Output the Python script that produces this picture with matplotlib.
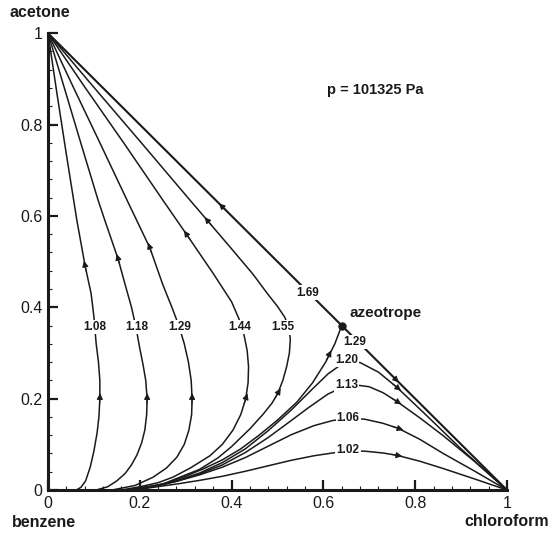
import numpy as np
import matplotlib
matplotlib.use("Agg")
import matplotlib.pyplot as plt
from matplotlib.ticker import MultipleLocator, FuncFormatter

plt.rcParams['font.family'] = ['Liberation Sans', 'DejaVu Sans']

# ---------------- data (x = chloroform, y = acetone) ----------------
# Left-region residue curves (benzene edge -> acetone)
c108_x = [0.062, 0.072, 0.082, 0.092, 0.100, 0.107, 0.111, 0.113, 0.113, 0.110, 0.105, 0.100, 0.094, 0.081, 0.063, 0.040, 0.020, 0.0]
c108_y = [0.000, 0.006, 0.020, 0.050, 0.085, 0.125, 0.160, 0.200, 0.240, 0.280, 0.320, 0.380, 0.430, 0.490, 0.590, 0.735, 0.865, 1.0]

c118_x = [0.105, 0.130, 0.150, 0.168, 0.182, 0.194, 0.204, 0.211, 0.215, 0.216, 0.213, 0.207, 0.200, 0.192, 0.182, 0.168, 0.153, 0.124, 0.109, 0.072, 0.036, 0.0]
c118_y = [0.000, 0.007, 0.020, 0.036, 0.055, 0.077, 0.103, 0.131, 0.165, 0.200, 0.240, 0.275, 0.310, 0.355, 0.400, 0.450, 0.505, 0.590, 0.635, 0.758, 0.879, 1.0]

c129_x = [0.140, 0.190, 0.229, 0.258, 0.281, 0.297, 0.307, 0.313, 0.314, 0.312, 0.306, 0.297, 0.285, 0.270, 0.250, 0.222, 0.172, 0.115, 0.057, 0.0]
c129_y = [0.000, 0.010, 0.028, 0.048, 0.072, 0.100, 0.131, 0.165, 0.200, 0.240, 0.280, 0.320, 0.360, 0.400, 0.450, 0.530, 0.635, 0.756, 0.878, 1.0]

c144_x = [0.160, 0.200, 0.240, 0.272, 0.310, 0.353, 0.380, 0.403, 0.420, 0.431, 0.436, 0.437, 0.434, 0.427, 0.416, 0.400, 0.360, 0.303, 0.250, 0.167, 0.083, 0.0]
c144_y = [0.000, 0.007, 0.016, 0.028, 0.048, 0.075, 0.100, 0.131, 0.165, 0.200, 0.235, 0.270, 0.305, 0.340, 0.375, 0.412, 0.474, 0.558, 0.635, 0.757, 0.878, 1.0]

c155_x = [0.170, 0.250, 0.330, 0.370, 0.400, 0.440, 0.468, 0.488, 0.501, 0.512, 0.520, 0.526, 0.528, 0.525, 0.516, 0.500, 0.478, 0.447, 0.400, 0.349, 0.309, 0.206, 0.103, 0.0]
c155_y = [0.000, 0.013, 0.045, 0.070, 0.095, 0.134, 0.165, 0.190, 0.212, 0.241, 0.270, 0.300, 0.330, 0.355, 0.378, 0.402, 0.430, 0.472, 0.528, 0.588, 0.635, 0.757, 0.878, 1.0]

# Separatrix (benzene edge -> azeotrope)
sep_x = [0.180, 0.220, 0.260, 0.300, 0.340, 0.380, 0.420, 0.460, 0.500, 0.542, 0.576, 0.605, 0.625, 0.640]
sep_y = [0.000, 0.006, 0.016, 0.030, 0.047, 0.066, 0.090, 0.120, 0.153, 0.192, 0.234, 0.280, 0.320, 0.360]

# Right-region residue curves (benzene edge -> chloroform)
c120_x = [0.180, 0.230, 0.280, 0.330, 0.380, 0.430, 0.480, 0.530, 0.575, 0.610, 0.635, 0.655, 0.680, 0.720, 0.760, 0.826, 0.900, 1.0]
c120_y = [0.000, 0.007, 0.020, 0.037, 0.060, 0.090, 0.130, 0.175, 0.220, 0.254, 0.272, 0.280, 0.279, 0.258, 0.225, 0.162, 0.090, 0.0]

c113_x = [0.180, 0.230, 0.280, 0.330, 0.380, 0.430, 0.480, 0.530, 0.570, 0.610, 0.640, 0.670, 0.700, 0.730, 0.760, 0.810, 0.861, 0.930, 1.0]
c113_y = [0.000, 0.007, 0.019, 0.035, 0.055, 0.082, 0.115, 0.152, 0.182, 0.210, 0.224, 0.230, 0.226, 0.213, 0.194, 0.158, 0.119, 0.062, 0.0]

c106_x = [0.180, 0.230, 0.280, 0.330, 0.380, 0.430, 0.480, 0.530, 0.580, 0.620, 0.655, 0.690, 0.730, 0.763, 0.810, 0.861, 0.930, 1.0]
c106_y = [0.000, 0.008, 0.019, 0.033, 0.050, 0.071, 0.096, 0.121, 0.141, 0.152, 0.157, 0.155, 0.146, 0.135, 0.111, 0.080, 0.041, 0.0]

c102_x = [0.180, 0.230, 0.280, 0.330, 0.380, 0.430, 0.480, 0.530, 0.580, 0.620, 0.655, 0.690, 0.730, 0.760, 0.810, 0.861, 0.930, 1.0]
c102_y = [0.000, 0.006, 0.013, 0.021, 0.030, 0.041, 0.053, 0.065, 0.075, 0.081, 0.085, 0.085, 0.081, 0.076, 0.063, 0.047, 0.024, 0.0]

# Hypotenuse split at the azeotrope
azeo_x, azeo_y = 0.640, 0.360
edge_up_x = [0.640, 0.0]
edge_up_y = [0.360, 1.0]
edge_dn_x = [0.640, 1.0]
edge_dn_y = [0.360, 0.0]

curves = {
    "1.08": (c108_x, c108_y), "1.18": (c118_x, c118_y), "1.29a": (c129_x, c129_y),
    "1.44": (c144_x, c144_y), "1.55": (c155_x, c155_y), "sep": (sep_x, sep_y),
    "1.20": (c120_x, c120_y), "1.13": (c113_x, c113_y), "1.06": (c106_x, c106_y),
    "1.02": (c102_x, c102_y), "1.69": (edge_up_x, edge_up_y), "1.29b": (edge_dn_x, edge_dn_y),
}

# arrow locations (curve key, x, y)
arrow_pts = [
    ("1.08", 0.113, 0.200), ("1.08", 0.081, 0.490),
    ("1.18", 0.216, 0.200), ("1.18", 0.153, 0.505),
    ("1.29a", 0.314, 0.200), ("1.29a", 0.222, 0.530),
    ("1.44", 0.431, 0.200), ("1.44", 0.303, 0.558),
    ("1.55", 0.501, 0.212), ("1.55", 0.349, 0.588),
    ("sep", 0.612, 0.295),
    ("1.20", 0.760, 0.225), ("1.13", 0.760, 0.194),
    ("1.06", 0.763, 0.135), ("1.02", 0.760, 0.076),
    ("1.69", 0.381, 0.619), ("1.29b", 0.756, 0.244),
]

# inline labels (text, x, y)
label_text = ["1.08", "1.18", "1.29", "1.44", "1.55", "1.69", "1.29", "1.20", "1.13", "1.06", "1.02"]
label_x = [0.102, 0.193, 0.288, 0.418, 0.512, 0.566, 0.669, 0.651, 0.651, 0.654, 0.654]
label_y = [0.357, 0.357, 0.357, 0.357, 0.356, 0.432, 0.324, 0.284, 0.230, 0.157, 0.087]

# ---------------- figure ----------------
fig = plt.figure(figsize=(5.49, 5.33), dpi=100)
ax = fig.add_axes([0.0874, 0.0807, 0.836, 0.857])

for key, (xs, ys) in curves.items():
    lw = 1.5 if key in ("1.69", "1.29b") else 1.1
    ax.plot(xs, ys, color='#1a1a1a', lw=lw, solid_capstyle='round',
            solid_joinstyle='round', zorder=2)

# arrowheads oriented along the curve direction
for key, px, py in arrow_pts:
    xs, ys = np.asarray(curves[key][0]), np.asarray(curves[key][1])
    p = np.array([px, py])
    best, bj = 1e9, 0
    for j in range(len(xs) - 1):
        u = np.array([xs[j], ys[j]]); v = np.array([xs[j + 1], ys[j + 1]])
        t = np.clip(np.dot(p - u, v - u) / max(np.dot(v - u, v - u), 1e-12), 0, 1)
        dist = np.linalg.norm(u + t * (v - u) - p)
        if dist < best:
            best, bj = dist, j
    dx, dy = xs[bj + 1] - xs[bj], ys[bj + 1] - ys[bj]
    n = np.hypot(dx, dy)
    dx, dy = dx / n * 0.012, dy / n * 0.012
    ax.annotate('', xy=(px + dx, py + dy), xytext=(px - dx, py - dy),
                arrowprops=dict(arrowstyle='-|>', color='#1a1a1a', lw=0.8,
                                mutation_scale=9, shrinkA=0, shrinkB=0),
                zorder=3)

for t, x, y in zip(label_text, label_x, label_y):
    ax.text(x, y, t, ha='center', va='center', fontsize=8.5, fontweight='bold',
            color='#1a1a1a', zorder=4,
            bbox=dict(boxstyle='square,pad=0.1', fc='white', ec='none'))

ax.plot([azeo_x], [azeo_y], 'o', color='#1a1a1a', ms=5, zorder=5)

ax.text(0.656, 0.387, "azeotrope", ha='left', va='center', fontsize=11, fontweight='bold', color='#1a1a1a')
ax.text(0.712, 0.875, "p = 101325 Pa", ha='center', va='center', fontsize=10.5, fontweight='bold', color='#1a1a1a')
ax.text(-0.017, 1.045, "acetone", ha='center', va='center', fontsize=11.5, fontweight='bold', color='#1a1a1a')
ax.text(-0.009, -0.072, "benzene", ha='center', va='center', fontsize=11.5, fontweight='bold', color='#1a1a1a')
ax.text(1.0, -0.068, "chloroform", ha='center', va='center', fontsize=11.5, fontweight='bold', color='#1a1a1a')

ax.set_xlim(0, 1)
ax.set_ylim(0, 1)
for s in ('top', 'right'):
    ax.spines[s].set_visible(False)
for s in ('left', 'bottom'):
    ax.spines[s].set_linewidth(2.2)
    ax.spines[s].set_color('#1a1a1a')

fmt = FuncFormatter(lambda v, p: "0" if abs(v) < 1e-9 else ("1" if abs(v - 1) < 1e-9 else f"{v:.1f}"))
for axis in (ax.xaxis, ax.yaxis):
    axis.set_major_locator(MultipleLocator(0.2))
    axis.set_minor_locator(MultipleLocator(0.04))
    axis.set_major_formatter(fmt)
ax.tick_params(which='major', direction='in', length=7, width=1.6, labelsize=11.5, pad=4, colors='#1a1a1a')
ax.tick_params(which='minor', direction='in', length=3, width=0.8, colors='#1a1a1a')

fig.savefig("out.png", dpi=100, facecolor='white')
